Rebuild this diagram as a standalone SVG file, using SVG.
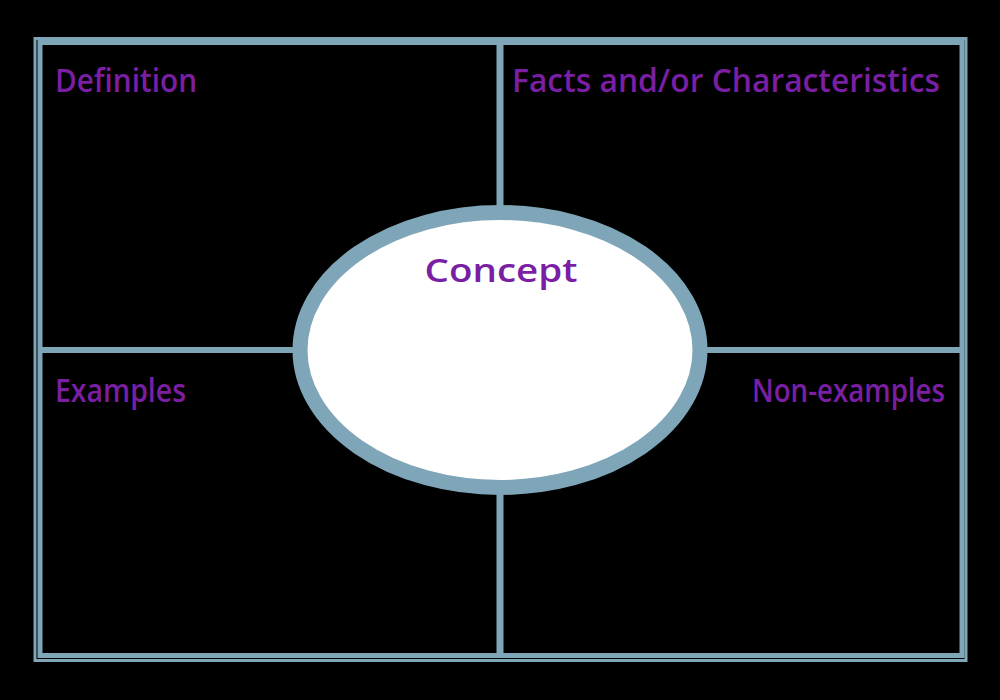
<svg xmlns="http://www.w3.org/2000/svg" width="1000" height="700" viewBox="0 0 1000 700">
<style>
.ln{fill:none;stroke:#7fa5b8}
.lbl{font-family:"Open Sans",sans-serif;fill:#7a1fa3;font-size:33px;font-weight:600}
</style>
<rect width="1000" height="700" fill="#000"/>
<g id="frame">
<rect class="ln" x="35" y="38.5" width="931" height="622" stroke-width="3"/>
<rect class="ln" x="40" y="42.5" width="922" height="613" stroke-width="5"/>
</g>
<g id="connectors">
<line class="ln" x1="500" y1="42" x2="500" y2="656" stroke-width="7"/>
<line class="ln" x1="40" y1="350" x2="962" y2="350" stroke-width="6"/>
</g>
<g id="concept">
<ellipse cx="500" cy="350" rx="200" ry="137.5" fill="#fff" stroke="#7fa5b8" stroke-width="15"/>
<text class="lbl" x="501" y="282" text-anchor="middle" font-size="50" textLength="153" lengthAdjust="spacingAndGlyphs">Concept</text>
</g>
<g id="definition">
<text class="lbl" x="55" y="92" textLength="142" lengthAdjust="spacingAndGlyphs">Definition</text>
</g>
<g id="facts">
<text class="lbl" x="512" y="92" textLength="428" lengthAdjust="spacingAndGlyphs">Facts and/or Characteristics</text>
</g>
<g id="examples">
<text class="lbl" x="55" y="402" textLength="131" lengthAdjust="spacingAndGlyphs">Examples</text>
</g>
<g id="nonexamples">
<text class="lbl" x="752" y="402" textLength="193" lengthAdjust="spacingAndGlyphs">Non-examples</text>
</g>
</svg>
